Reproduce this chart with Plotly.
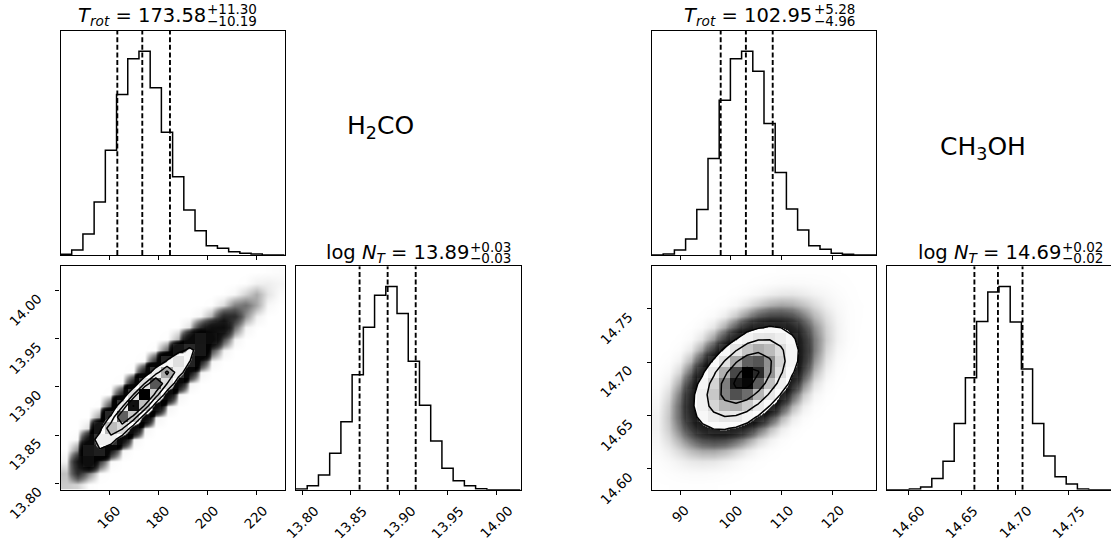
import numpy as np
import plotly.graph_objects as go

W, H = 1111, 547
FONT = "DejaVu Sans"

# ======================= DATA =======================
# 1-D marginal histograms (20 bins spanning each axis range)
h2co_T_counts = [2, 15, 63, 159, 315, 482, 590, 612, 503, 369, 235, 135, 73, 28, 20, 10, 5, 3, 0, 0]
h2co_N_counts = [2, 12, 44, 110, 205, 347, 490, 587, 613, 532, 388, 255, 147, 65, 27, 12, 3, 0, 0, 0]
ch3oh_T_counts = [0, 3, 15, 48, 137, 290, 465, 590, 612, 552, 395, 248, 138, 75, 28, 17, 5, 2, 0, 0]
ch3oh_N_counts = [0, 0, 2, 8, 34, 86, 200, 338, 508, 597, 613, 506, 364, 200, 102, 39, 17, 2, 0, 0]

# axis ranges (the histogram bins span these)
h2co_T_range = [140.2, 231.7]
h2co_N_range = [13.7933, 14.0253]
ch3oh_T_range = [84.47, 128.56]
ch3oh_N_range = [14.5803, 14.7897]

# 16 / 50 / 84 % quantiles (dashed lines)
h2co_T_q = [163.39, 173.58, 184.88]
h2co_N_q = [13.859, 13.888, 13.917]
ch3oh_T_q = [97.99, 102.95, 108.23]
ch3oh_N_q = [14.662, 14.684, 14.707]

# 2-D histograms (rows = logN bins bottom->top, columns = T_rot bins left->right)
h2co_grid = [
    [0.76, 0.63, 0.04, 0, 0, 0, 0, 0, 0, 0, 0, 0, 0, 0, 0, 0, 0, 0, 0, 0],
    [0.91, 5.1, 2.0, 0.06, 0, 0, 0, 0, 0, 0, 0, 0, 0, 0, 0, 0, 0, 0, 0, 0],
    [0.20, 7.3, 19.2, 4.3, 0.10, 0, 0, 0, 0, 0, 0, 0, 0, 0, 0, 0, 0, 0, 0, 0],
    [0.01, 1.9, 31.7, 44.2, 7.3, 0.14, 0, 0, 0, 0, 0, 0, 0, 0, 0, 0, 0, 0, 0, 0],
    [0, 0.08, 9.6, 81.7, 82.2, 10.5, 0.18, 0, 0, 0, 0, 0, 0, 0, 0, 0, 0, 0, 0, 0],
    [0, 0, 0.49, 27.5, 163, 122, 13.0, 0.21, 0, 0, 0, 0, 0, 0, 0, 0, 0, 0, 0, 0],
    [0, 0, 0, 1.6, 58.9, 250, 150, 14.4, 0.23, 0, 0, 0, 0, 0, 0, 0, 0, 0, 0, 0],
    [0, 0, 0, 0.02, 3.7, 93.5, 306, 161, 13.8, 0.22, 0, 0, 0, 0, 0, 0, 0, 0, 0, 0],
    [0, 0, 0, 0, 0.03, 6.1, 114, 316, 142, 12.5, 0.21, 0, 0, 0, 0, 0, 0, 0, 0, 0],
    [0, 0, 0, 0, 0, 0.05, 7.4, 113, 257, 114, 10.4, 0.20, 0, 0, 0, 0, 0, 0, 0, 0],
    [0, 0, 0, 0, 0, 0, 0.06, 7.1, 85.5, 185, 81.1, 8.1, 0.20, 0, 0, 0, 0, 0, 0, 0],
    [0, 0, 0, 0, 0, 0, 0, 0.06, 4.9, 54.9, 113, 52.5, 6.3, 0.15, 0, 0, 0, 0, 0, 0],
    [0, 0, 0, 0, 0, 0, 0, 0, 0.05, 2.8, 28.7, 60.9, 31.9, 3.4, 0.21, 0, 0, 0, 0, 0],
    [0, 0, 0, 0, 0, 0, 0, 0, 0, 0.03, 1.2, 12.8, 29.6, 13.5, 3.5, 0.21, 0, 0, 0, 0],
    [0, 0, 0, 0, 0, 0, 0, 0, 0, 0, 0.01, 0.46, 5.0, 9.7, 10.3, 2.5, 0.21, 0.01, 0, 0],
    [0, 0, 0, 0, 0, 0, 0, 0, 0, 0, 0, 0, 0.15, 1.2, 5.5, 5.2, 1.7, 0.25, 0, 0],
    [0, 0, 0, 0, 0, 0, 0, 0, 0, 0, 0, 0, 0, 0.03, 0.52, 2.0, 2.4, 1.3, 0.12, 0],
    [0, 0, 0, 0, 0, 0, 0, 0, 0, 0, 0, 0, 0, 0, 0.01, 0.13, 0.64, 1.24, 0.40, 0.07],
    [0, 0, 0, 0, 0, 0, 0, 0, 0, 0, 0, 0, 0, 0, 0, 0, 0.03, 0.22, 0.25, 0.16],
    [0, 0, 0, 0, 0, 0, 0, 0, 0, 0, 0, 0, 0, 0, 0, 0, 0, 0, 0.03, 0.06],
]
ch3oh_grid = [
    [0.06, 0.11, 0.17, 0.20, 0.18, 0.13, 0.07, 0.03, 0, 0, 0, 0, 0, 0, 0, 0, 0, 0, 0, 0],
    [0.20, 0.45, 0.77, 1.03, 1.07, 0.87, 0.54, 0.26, 0.10, 0.03, 0, 0, 0, 0, 0, 0, 0, 0, 0, 0],
    [0.56, 1.4, 2.8, 4.2, 4.9, 4.5, 3.2, 1.8, 0.76, 0.25, 0.07, 0, 0, 0, 0, 0, 0, 0, 0, 0],
    [1.2, 3.5, 7.7, 13.2, 17.6, 18.2, 14.7, 9.2, 4.5, 1.7, 0.50, 0.12, 0, 0, 0, 0, 0, 0, 0, 0],
    [2.0, 6.6, 16.5, 32, 49, 57, 52, 37, 21, 8.9, 3.0, 0.77, 0.16, 0, 0, 0, 0, 0, 0, 0],
    [2.7, 9.7, 27.6, 61, 105, 140, 146, 118, 74, 36, 13.6, 4.0, 0.93, 0.17, 0, 0, 0, 0, 0, 0],
    [2.7, 11.1, 36, 90, 176, 267, 314, 287, 205, 113, 49, 16.3, 4.2, 0.85, 0.14, 0, 0, 0, 0, 0],
    [2.1, 10, 36.5, 104, 229, 394, 526, 546, 441, 277, 135, 51, 15, 3.5, 0.62, 0.09, 0, 0, 0, 0],
    [1.3, 6.9, 28.6, 93, 232, 452, 685, 807, 740, 526, 291, 125, 42, 10.9, 2.2, 0.35, 0.04, 0, 0, 0],
    [0.62, 3.7, 17.6, 64, 183, 404, 694, 927, 963, 777, 488, 238, 90, 26.6, 6.1, 1.1, 0.15, 0, 0, 0],
    [0.23, 1.6, 8.3, 34.6, 112, 280, 546, 828, 975, 893, 635, 352, 151, 50.6, 13.2, 2.7, 0.42, 0.05, 0, 0],
    [0.07, 0.51, 3.1, 14.5, 53, 151, 334, 575, 767, 797, 643, 404, 197, 75, 22, 5.0, 0.90, 0.12, 0, 0],
    [0, 0.13, 0.89, 4.7, 19.7, 63, 159, 310, 470, 553, 506, 361, 199, 86, 28.6, 7.5, 1.8, 0.35, 0.06, 0],
    [0, 0.03, 0.20, 1.2, 5.7, 21, 59, 130, 223, 299, 310, 250, 157, 77, 29, 9.5, 2.8, 0.6, 0.10, 0],
    [0, 0, 0.03, 0.24, 1.27, 5.2, 17, 42, 83, 125, 148, 135, 96, 53, 23, 8.5, 2.8, 0.6, 0.12, 0],
    [0, 0, 0, 0, 0.22, 1.03, 3.8, 10.7, 23.7, 41, 54, 55, 46, 28.6, 14, 6.0, 2.2, 0.6, 0.15, 0],
    [0, 0, 0, 0, 0, 0.16, 0.66, 2.1, 5.3, 10.3, 15.6, 18.3, 16.8, 12, 7.0, 3.2, 1.4, 0.5, 0.15, 0.04],
    [0, 0, 0, 0, 0, 0, 0.09, 0.33, 0.93, 2.0, 3.5, 4.6, 4.8, 3.9, 2.6, 1.6, 0.8, 0.3, 0.08, 0],
    [0, 0, 0, 0, 0, 0, 0, 0, 0.12, 0.31, 0.61, 0.93, 1.1, 1.0, 0.75, 0.6, 0.3, 0.15, 0.04, 0],
    [0, 0, 0, 0, 0, 0, 0, 0, 0, 0, 0.08, 0.14, 0.19, 0.20, 0.25, 0.2, 0.12, 0.08, 0, 0],
]
# contour levels (2.0, 1.5, 1.0, 0.5 sigma)
h2co_levels = [50, 113, 170, 300]
ch3oh_levels = [135, 325, 607, 882]

# ticks and tick labels
h2co_T_ticks = [160, 180, 200, 220]
h2co_T_labels = ["160", "180", "200", "220"]
h2co_N_ticks = [13.80, 13.85, 13.90, 13.95, 14.00]
h2co_N_labels = ["13.80", "13.85", "13.90", "13.95", "14.00"]
ch3oh_T_ticks = [90, 100, 110, 120]
ch3oh_T_labels = ["90", "100", "110", "120"]
ch3oh_N_ticks = [14.60, 14.65, 14.70, 14.75]
ch3oh_N_labels = ["14.60", "14.65", "14.70", "14.75"]

# titles: (main, sup, sub)
h2co_T_title = ("<i>T</i><sub><i>rot</i></sub> = 173.58", "+11.30", "\u221210.19")
h2co_N_title = ("log <i>N</i><sub><i>T</i></sub> = 13.89", "+0.03", "\u22120.03")
ch3oh_T_title = ("<i>T</i><sub><i>rot</i></sub> = 102.95", "+5.28", "\u22124.96")
ch3oh_N_title = ("log <i>N</i><sub><i>T</i></sub> = 14.69", "+0.02", "\u22120.02")
molecule_names = ["H<sub>2</sub>CO", "CH<sub>3</sub>OH"]

# ======================= STYLE / LAYOUT =======================
# panel boxes in pixels (left, top, right, bottom)
BOX = {
    1: (60.5, 31, 284.7, 255),       # H2CO T hist
    2: (60.5, 266.3, 284.7, 489.7),  # H2CO 2D
    3: (296, 266.3, 520.5, 489.7),   # H2CO N hist
    4: (652, 31, 876, 255),          # CH3OH T hist
    5: (652, 266.3, 876, 489.7),     # CH3OH 2D
    6: (887, 266.3, 1111, 489.7),    # CH3OH N hist
}
# cloud darkness stops (histogram units -> gray level)
CLOUD_STOPS = [(0, 255), (0.15, 246), (0.4, 228), (0.8, 200), (1.3, 168), (2.0, 128),
               (3.0, 88), (4.5, 50), (7.0, 18), (12, 0)]
PIX_CS = [[0, "rgba(255,255,255,0)"], [0.25, "rgba(191,191,191,0.25)"],
          [0.5, "rgba(128,128,128,0.5)"], [0.75, "rgba(64,64,64,0.75)"],
          [1, "rgba(0,0,0,1)"]]
TICK_FONT = dict(family=FONT, size=13.5, color="black")
TITLE_SIZE = 19.5
SCRIPT_SIZE = 13.5


def px_x(x):
    return x / W


def px_y(y):
    return 1 - y / H


def ax_name(i, kind):
    return kind if i == 1 else f"{kind}{i}"


fig = go.Figure()
annotations = []


def step_trace(counts, rng, i):
    edges = np.linspace(rng[0], rng[1], len(counts) + 1)
    xs = [edges[0]] + list(edges[:-1]) + [edges[-1], edges[-1]]
    ys = [0] + list(counts) + [counts[-1], 0]
    fig.add_trace(go.Scatter(x=xs, y=ys, mode="lines", line=dict(color="black", width=1.5, shape="hv"),
                             xaxis=ax_name(i, "x"), yaxis=ax_name(i, "y"), hoverinfo="skip",
                             showlegend=False))
    return 1.1 * max(counts)


def quantile_lines(q, ytop, i):
    xq, yq = [], []
    for v in q:
        xq += [v, v, None]
        yq += [0, ytop, None]
    fig.add_trace(go.Scatter(x=xq, y=yq, mode="lines",
                             line=dict(color="black", width=1.9, dash="5px,2.6px"),
                             xaxis=ax_name(i, "x"), yaxis=ax_name(i, "y"), hoverinfo="skip",
                             showlegend=False))


def density_panel(grid, xr, yr, levels, unit, i):
    n = len(grid[0])
    xe = np.linspace(xr[0], xr[1], n + 1)
    ye = np.linspace(yr[0], yr[1], len(grid) + 1)
    xc = 0.5 * (xe[1:] + xe[:-1])
    yc = 0.5 * (ye[1:] + ye[:-1])
    z = np.array(grid, dtype=float)
    L0 = levels[0]
    cs = []
    for zz, g in CLOUD_STOPS:
        cs.append([min(zz * unit / L0, 0.998), f"rgb({g},{g},{g})"])
    cs += [[0.9995, "rgb(0,0,0)"], [1, "rgb(255,255,255)"]]
    xa, ya = ax_name(i, "x"), ax_name(i, "y")
    fig.add_trace(go.Heatmap(x=xc, y=yc, z=z, zsmooth="best", colorscale=cs, zmin=0, zmax=L0,
                             showscale=False, hoverinfo="skip", xaxis=xa, yaxis=ya))
    fig.add_trace(go.Heatmap(x=xc, y=yc, z=z, zsmooth=False, colorscale=PIX_CS, zmin=0,
                             zmax=float(z.max()), showscale=False, hoverinfo="skip",
                             xaxis=xa, yaxis=ya))
    for L in levels:
        fig.add_trace(go.Contour(x=xc, y=yc, z=z, autocontour=False,
                                 contours=dict(coloring="none", start=L, end=L, size=1),
                                 line=dict(color="black", width=1.5, smoothing=0),
                                 showscale=False, hoverinfo="skip", xaxis=xa, yaxis=ya))


def xtick_labels(ticks, labels, i):
    for v, s in zip(ticks, labels):
        annotations.append(dict(text=s, x=v, xref=ax_name(i, "x"), y=0,
                                yref=f"{ax_name(i, 'y')} domain",
                                xanchor="center", yanchor="top", yshift=-10, textangle=-45,
                                showarrow=False, font=TICK_FONT))


def ytick_labels(ticks, labels, i):
    for v, s in zip(ticks, labels):
        annotations.append(dict(text=s, x=0, xref=f"{ax_name(i, 'x')} domain",
                                y=v, yref=ax_name(i, "y"), xanchor="right", yanchor="top",
                                xshift=-13, yshift=3, textangle=-45, showarrow=False,
                                font=TICK_FONT))


def title(parts, join_px, cy_px):
    main, sup, sub = parts
    annotations.append(dict(text=main, x=px_x(join_px + 1), y=px_y(cy_px + 2), xref="paper",
                            yref="paper", xanchor="right", yanchor="middle", showarrow=False,
                            font=dict(family=FONT, size=TITLE_SIZE, color="black")))
    annotations.append(dict(text=sup, x=px_x(join_px - 2), y=px_y(cy_px - 5), xref="paper",
                            yref="paper", xanchor="left", yanchor="middle", showarrow=False,
                            font=dict(family=FONT, size=SCRIPT_SIZE, color="black")))
    annotations.append(dict(text=sub, x=px_x(join_px - 2), y=px_y(cy_px + 6.5), xref="paper",
                            yref="paper", xanchor="left", yanchor="middle", showarrow=False,
                            font=dict(family=FONT, size=SCRIPT_SIZE, color="black")))


# ---- H2CO corner ----
yt1 = step_trace(h2co_T_counts, h2co_T_range, 1)
quantile_lines(h2co_T_q, yt1, 1)
density_panel(h2co_grid, h2co_T_range, h2co_N_range, h2co_levels, 1.0, 2)
yt3 = step_trace(h2co_N_counts, h2co_N_range, 3)
quantile_lines(h2co_N_q, yt3, 3)
# ---- CH3OH corner ----
yt4 = step_trace(ch3oh_T_counts, ch3oh_T_range, 4)
quantile_lines(ch3oh_T_q, yt4, 4)
density_panel(ch3oh_grid, ch3oh_T_range, ch3oh_N_range, ch3oh_levels, 13.0, 5)
yt6 = step_trace(ch3oh_N_counts, ch3oh_N_range, 6)
quantile_lines(ch3oh_N_q, yt6, 6)

axis_cfg = {
    1: (h2co_T_range, h2co_T_ticks, [0, yt1], []),
    2: (h2co_T_range, h2co_T_ticks, h2co_N_range, h2co_N_ticks),
    3: (h2co_N_range, h2co_N_ticks, [0, yt3], []),
    4: (ch3oh_T_range, ch3oh_T_ticks, [0, yt4], []),
    5: (ch3oh_T_range, ch3oh_T_ticks, ch3oh_N_range, ch3oh_N_ticks),
    6: (ch3oh_N_range, ch3oh_N_ticks, [0, yt6], []),
}
layout_axes = {}
for i, (xr, xt, yr, yt) in axis_cfg.items():
    l, t, r, b = BOX[i]
    common = dict(showgrid=False, zeroline=False, showline=True, linecolor="black", linewidth=1.1,
                  mirror=True, showticklabels=False, ticklen=4, tickwidth=1.1, tickcolor="black",
                  fixedrange=True)
    xname = "xaxis" if i == 1 else f"xaxis{i}"
    yname = "yaxis" if i == 1 else f"yaxis{i}"
    layout_axes[xname] = dict(common, domain=[px_x(l), min(px_x(r), 1.0)], range=xr,
                              anchor=ax_name(i, "y"), ticks="outside", tickvals=xt)
    layout_axes[yname] = dict(common, domain=[px_y(b), px_y(t)], range=yr,
                              anchor=ax_name(i, "x"), ticks="outside" if yt else "",
                              tickvals=yt)

xtick_labels(h2co_T_ticks, h2co_T_labels, 2)
ytick_labels(h2co_N_ticks, h2co_N_labels, 2)
xtick_labels(h2co_N_ticks, h2co_N_labels, 3)
xtick_labels(ch3oh_T_ticks, ch3oh_T_labels, 5)
ytick_labels(ch3oh_N_ticks, ch3oh_N_labels, 5)
xtick_labels(ch3oh_N_ticks, ch3oh_N_labels, 6)

title(h2co_T_title, 207, 14)
title(h2co_N_title, 470, 251.7)
title(ch3oh_T_title, 813.5, 14)
title(ch3oh_N_title, 1062, 251.7)

annotations.append(dict(text=molecule_names[0], x=px_x(380), y=px_y(127), xref="paper", yref="paper",
                        xanchor="center", yanchor="middle", showarrow=False,
                        font=dict(family=FONT, size=25, color="black")))
annotations.append(dict(text=molecule_names[1], x=px_x(983), y=px_y(148), xref="paper", yref="paper",
                        xanchor="center", yanchor="middle", showarrow=False,
                        font=dict(family=FONT, size=25, color="black")))

fig.update_layout(width=W, height=H, margin=dict(l=0, r=0, t=0, b=0), paper_bgcolor="white",
                  plot_bgcolor="white", showlegend=False, font=dict(family=FONT, color="black"),
                  annotations=annotations, **layout_axes)

fig.write_html("out.html", config={"displayModeBar": False},
               post_script="document.body.style.margin='0';document.body.style.overflow='hidden';")
